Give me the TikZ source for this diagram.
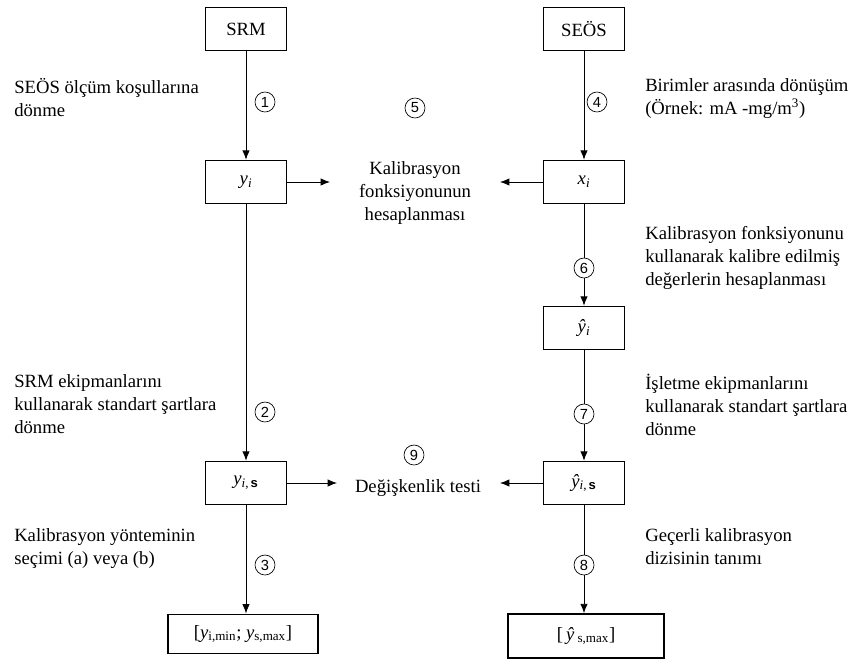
\documentclass[tikz,border=0pt]{standalone}
\usepackage{fontspec}
\setmainfont{Liberation Serif}
\setsansfont{Liberation Sans}
\usetikzlibrary{arrows.meta,positioning}

\begin{document}
\begin{tikzpicture}[%
    x=0.75pt,y=-0.75pt,%
    font=\fontsize{14}{17.25}\selectfont,%
    kutu/.style={draw=black,line width=1.2pt,minimum width=60.75pt,minimum height=32.25pt,inner sep=0pt},%
    ok/.style={-{Latex[length=7pt,width=5.5pt]},line width=0.6pt},%
    aciklama/.style={anchor=north west,align=left,inner sep=0pt}%
  ]
  \tikzset{%
    adim/.style={circle,draw=black,line width=0.5pt,fill=white,inner sep=0pt,%
      minimum size=15pt,font=\sffamily\fontsize{11}{12}\selectfont}%
  }%
  \useasboundingbox (0,0) rectangle (863,664);%

  %
  % Kutular
  %
  % SRM
  \node[kutu] (srm) at (246,29) {SRM};%
  \node[kutu] (yi) at (246,182) {\textit{y}\textsubscript{\textit{i}}};%
  \node[kutu] (yis) at (246,483) {\textit{y}\textsubscript{\textit{i},\,\textbf{\sffamily s}}};%
  \node[kutu,minimum width=112.5pt,minimum height=29.5pt] (araliky) at (243,634) {[\textit{y}\textsubscript{i,min}; \textit{y}\textsubscript{s,max}]};%

  % SEÖS
  \node[kutu] (seos) at (584,29) {SEÖS};%
  \node[kutu] (xi) at (584,182) {\textit{x}\textsubscript{\textit{i}}};%
  \node[kutu] (yhi) at (584,328) {\textit{ŷ}\textsubscript{\textit{i}}};%
  \node[kutu] (yhis) at (584,483) {\textit{ŷ}\textsubscript{\textit{i},\,\textbf{\sffamily s}}};%
  \node[kutu,minimum width=117pt,minimum height=33pt] (aralikyh) at (586,636) {[\,\textit{ŷ}\,\textsubscript{s,max}]};%

  % Orta
  \node[align=center,inner sep=0pt] (kalib) at (415,193) {Kalibrasyon\\fonksiyonunun\\hesaplanması};%
  \node[inner sep=0pt] (test) at (418,488) {Değişkenlik testi};%
  \coordinate (kalib sol) at (330,182);%
  \coordinate (kalib sag) at (500,182);%
  \coordinate (test sol) at (337,483);%
  \coordinate (test sag) at (500,483);%

  %
  % Oklar
  %
  \draw[ok] (srm) -- (yi);%
  \draw[ok] (yi) -- (yis);%
  \draw[ok] (yis) -- (yis |- araliky.north);%
  \draw[ok] (seos) -- (xi);%
  \draw[ok] (xi) -- (yhi);%
  \draw[ok] (yhi) -- (yhis);%
  \draw[ok] (yhis) -- (yhis |- aralikyh.north);%
  \draw[ok] (yi) -- (kalib sol);%
  \draw[ok] (xi) -- (kalib sag);%
  \draw[ok] (yis) -- (test sol);%
  \draw[ok] (yhis) -- (test sag);%

  % Adimlar
  \foreach \n/\x/\y in {1/265/102,2/265/412,3/265/565,4/597/102,5/415/108,%
      6/584/268,7/584/414,8/584/565,9/414/455} {%
      \node[adim] (adim\n) at (\x,\y) {\n};%
    }%

  %
  % Aciklamalar
  %
  \node[aciklama] (sol1) at (14,78) {SEÖS ölçüm koşullarına\\dönme};%
  \node[aciklama] (sol2) at (14,374) {SRM ekipmanlarını\\kullanarak standart şartlara\\dönme};%
  \node[aciklama] (sol3) at (14,528) {Kalibrasyon yönteminin\\seçimi (a) veya (b)};%
  \node[aciklama] (sag1) at (645,78) {Birimler arasında dönüşüm\\(Örnek: mA -mg/m\textsuperscript{3})};%
  \node[aciklama] (sag2) at (645,226) {Kalibrasyon fonksiyonunu\\kullanarak kalibre edilmiş\\değerlerin hesaplanması};%
  \node[aciklama] (sag3) at (645,374) {İşletme ekipmanlarını\\kullanarak standart şartlara\\dönme};%
  \node[aciklama] (sag4) at (645,528) {Geçerli kalibrasyon\\dizisinin tanımı};%
\end{tikzpicture}
\end{document}
